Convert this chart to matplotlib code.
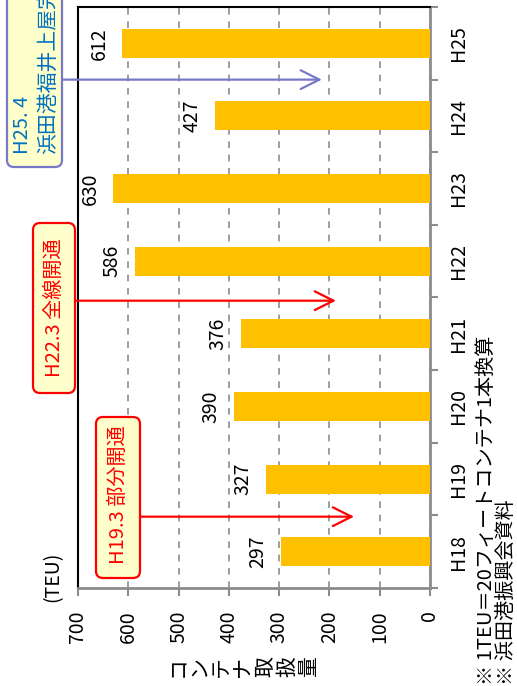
import numpy as np
import matplotlib
matplotlib.use("Agg")
import matplotlib.pyplot as plt
from matplotlib.patches import FancyBboxPatch
from matplotlib.transforms import IdentityTransform

plt.rcParams['font.family'] = ['Noto Sans CJK JP', 'DejaVu Sans']

# Container throughput at Hamada port (TEU)
categories = ['H18', 'H19', 'H20', 'H21', 'H22', 'H23', 'H24', 'H25']
teu = [297, 327, 390, 376, 586, 630, 427, 612]
value_ticks = [0, 100, 200, 300, 400, 500, 600, 700]

W, H = 517, 686
fig = plt.figure(figsize=(W / 100, H / 100), dpi=100)
fig.patch.set_facecolor('white')


def fx(x):
    return x / W


def fy(y):
    return 1 - y / H


ax = fig.add_axes([fx(78), fy(588), (430 - 78) / W, (588 - 7) / H])
pos = np.arange(len(categories))
ax.barh(pos, teu, height=0.4, color='#FFC000', zorder=3)
ax.set_xlim(700, 0)
ax.set_ylim(-0.5, len(categories) - 0.5)

# value axis (bottom)
ax.set_xticks(value_ticks)
ax.set_xticklabels([str(v) for v in value_ticks], rotation=90, fontsize=14)
ax.tick_params(axis='x', direction='out', length=6, width=1.5, color='#8C8C8C', pad=10)
ax.grid(axis='x', color='#8C8C8C', linestyle=(0, (4, 4)), lw=1.2, zorder=1)

# category axis (right)
ax.yaxis.tick_right()
ax.set_yticks(pos)
ax.set_yticklabels(categories, rotation=90, va='center', fontsize=14)
ax.set_yticks(np.arange(len(categories) + 1) - 0.5, minor=True)
ax.tick_params(axis='y', which='major', length=0, pad=13)
ax.tick_params(axis='y', which='minor', direction='out', length=6, width=1.5, color='#8C8C8C')

for s in ('left', 'top'):
    ax.spines[s].set_color('black')
    ax.spines[s].set_linewidth(1.5)
for s in ('right', 'bottom'):
    ax.spines[s].set_color('#8C8C8C')
    ax.spines[s].set_linewidth(2)

# value labels beyond each bar end
for p, v in zip(pos, teu):
    ax.annotate(str(v), xy=(v, p), xytext=(-16.5, 0), textcoords='offset points',
                rotation=90, ha='center', va='center', fontsize=14)

# unit and axis titles
fig.text(fx(53), fy(577), '(TEU)', rotation=90, ha='center', va='center', fontsize=14)
fig.text(fx(243), fy(667), '\n'.join('コンテナ取扱量'), rotation=90, ha='center', va='center',
         fontsize=15, linespacing=1.0)
fig.text(fx(486), fy(685), '※ 1TEU＝20フィートコンテナ1本換算', rotation=90,
         ha='center', va='bottom', fontsize=14.5)
fig.text(fx(507), fy(685), '※ 浜田港振興会資料', rotation=90,
         ha='center', va='bottom', fontsize=14.5)


def callout(x0, y0, x1, y1, ec):
    box = FancyBboxPatch((x0, H - y1), x1 - x0, y1 - y0,
                         boxstyle='round,pad=0,rounding_size=7',
                         transform=IdentityTransform(), fc='#FFFFCC', ec=ec, lw=1.6,
                         zorder=5)
    fig.add_artist(box)


# milestone callouts
red = '#FF0000'
blue_edge = '#7878C8'
callout(96, 417, 140, 578, red)
fig.text(fx(118), fy(495), 'H19.3 部分開通', rotation=90, ha='center', va='center',
         color=red, fontsize=14.5, zorder=6)
callout(33, 223, 75, 393, red)
fig.text(fx(54), fy(308), 'H22.3 全線開通', rotation=90, ha='center', va='center',
         color=red, fontsize=14.5, zorder=6)
callout(7, -40, 62, 167, blue_edge)
fig.text(fx(22), fy(154), 'H25. 4', rotation=90, ha='center', va='bottom',
         color='#0070C0', fontsize=14.5, zorder=6)
fig.text(fx(48), fy(154), '浜田港福井上屋完成', rotation=90, ha='center', va='bottom',
         color='#0070C0', fontsize=15, zorder=6)

arrow_style = '->,head_length=0.9,head_width=0.45'
ax.annotate('', xy=(151, 0.482), xytext=(577, 0.482),
            arrowprops=dict(arrowstyle=arrow_style, color=red, lw=1.6,
                            shrinkA=0, shrinkB=0, mutation_scale=15), zorder=4)
ax.annotate('', xy=(187, 3.456), xytext=(706, 3.456),
            arrowprops=dict(arrowstyle=arrow_style, color=red, lw=1.6,
                            shrinkA=0, shrinkB=0, mutation_scale=15), zorder=4)
ax.annotate('', xy=(215, 6.5), xytext=(732, 6.5),
            arrowprops=dict(arrowstyle=arrow_style, color=blue_edge, lw=1.6,
                            shrinkA=0, shrinkB=0, mutation_scale=15), zorder=4)

fig.savefig('out.png', dpi=100)
